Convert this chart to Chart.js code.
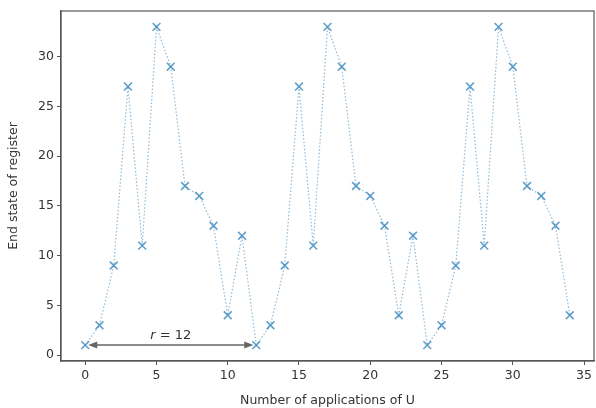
<!DOCTYPE html>
<html><head><meta charset="utf-8">
<script src="https://cdn.jsdelivr.net/npm/chart.js@4"></script>
<style>html,body{margin:0;padding:0;background:#fff}#wrap{width:596px;height:408px}</style>
</head><body><div id="wrap"><canvas id="c" width="596" height="408"></canvas></div>
<script>
const xValues = [0,1,2,3,4,5,6,7,8,9,10,11,12,13,14,15,16,17,18,19,20,21,22,23,24,25,26,27,28,29,30,31,32,33,34];
const yValues = [1,3,9,27,11,33,29,17,16,13,4,12,1,3,9,27,11,33,29,17,16,13,4,12,1,3,9,27,11,33,29,17,16,13,4];
const xTicks = [0,5,10,15,20,25,30,35];
const yTicks = [0,5,10,15,20,25,30];
const period = {from:0, to:12, y:1, label:'r = 12'};

const F = 'DejaVu Sans';
const boxPlugin = {
  id:'box',
  afterDatasetsDraw(chart){
    const {ctx, chartArea:a, scales:{x,y}} = chart;
    ctx.save();
    const x0 = x.getPixelForValue(period.from), x1 = x.getPixelForValue(period.to), yy = y.getPixelForValue(period.y);
    ctx.strokeStyle = '#666'; ctx.fillStyle='#666'; ctx.lineWidth = 1.5;
    const ins = 3;
    ctx.beginPath(); ctx.moveTo(x0+ins+6, yy); ctx.lineTo(x1-ins-6, yy); ctx.stroke();
    ctx.beginPath(); ctx.moveTo(x0+ins, yy); ctx.lineTo(x0+ins+9, yy-3.5); ctx.lineTo(x0+ins+9, yy+3.5); ctx.closePath(); ctx.fill();
    ctx.beginPath(); ctx.moveTo(x1-ins, yy); ctx.lineTo(x1-ins-9, yy-3.5); ctx.lineTo(x1-ins-9, yy+3.5); ctx.closePath(); ctx.fill();
    const cx = x.getPixelForValue((period.from+period.to)/2);
    ctx.fillStyle = '#333'; ctx.textBaseline='alphabetic';
    ctx.font = 'italic 13px "'+F+'"';
    const p1 = 'r', p2 = ' = 12';
    const w1 = ctx.measureText(p1).width;
    ctx.font = '13px "'+F+'"';
    const w2 = ctx.measureText(p2).width;
    let sx = cx - (w1+w2)/2;
    const ty = yy - 6;
    ctx.font = 'italic 13px "'+F+'"'; ctx.textAlign='left'; ctx.fillText(p1, sx, ty);
    ctx.font = '13px "'+F+'"'; ctx.fillText(p2, sx+w1, ty);
    ctx.strokeStyle = '#555'; ctx.lineWidth = 1.2;
    ctx.strokeRect(a.left, a.top, a.right-a.left, a.bottom-a.top);
    ctx.restore();
  }
};

new Chart(document.getElementById('c'), {
  type:'line',
  data:{datasets:[{
    data: xValues.map((v,i)=>({x:v, y:yValues[i]})),
    borderColor:'rgba(31,119,180,0.5)',
    borderWidth:1.2,
    borderDash:[1.5,2],
    pointStyle:'crossRot',
    pointRadius:5.5,
    pointBorderWidth:1.6,
    pointBorderColor:'rgba(31,119,180,0.7)',
    tension:0,
    clip:false
  }]},
  options:{
    responsive:false, animation:false,
    layout:{autoPadding:false, padding:{top:11,right:2,left:6,bottom:0}},
    plugins:{legend:{display:false}, tooltip:{enabled:false}},
    scales:{
      x:{type:'linear', min:-1.7, max:35.7,
        afterBuildTicks(s){s.ticks = xTicks.map(v=>({value:v}));},
        afterFit(s){s.height = 47; s.paddingRight = 0; s.paddingLeft = 0;},
        grid:{display:true, drawOnChartArea:false, drawTicks:true, tickLength:4, color:'#555', tickWidth:1},
        border:{display:true, color:'#555', width:1.2},
        ticks:{color:'#333', font:{family:F, size:12.5}, padding:3, maxRotation:0, autoSkip:false},
        title:{display:true, text:'Number of applications of U', color:'#333', font:{family:F, size:12.5}, padding:{top:2,bottom:0}}
      },
      y:{type:'linear', min:-0.6, max:34.6,
        afterBuildTicks(s){s.ticks = yTicks.map(v=>({value:v}));},
        afterFit(s){s.width = 55; s.paddingTop = 0; s.paddingBottom = 0;},
        grid:{display:true, drawOnChartArea:false, drawTicks:true, tickLength:4, color:'#555', tickWidth:1},
        border:{display:true, color:'#555', width:1.2},
        ticks:{color:'#333', font:{family:F, size:12.5}, padding:3, autoSkip:false},
        title:{display:true, text:'End state of register', color:'#333', font:{family:F, size:12.5}, padding:{top:0,bottom:4}}
      }
    }
  },
  plugins:[boxPlugin]
});
</script></body></html>
